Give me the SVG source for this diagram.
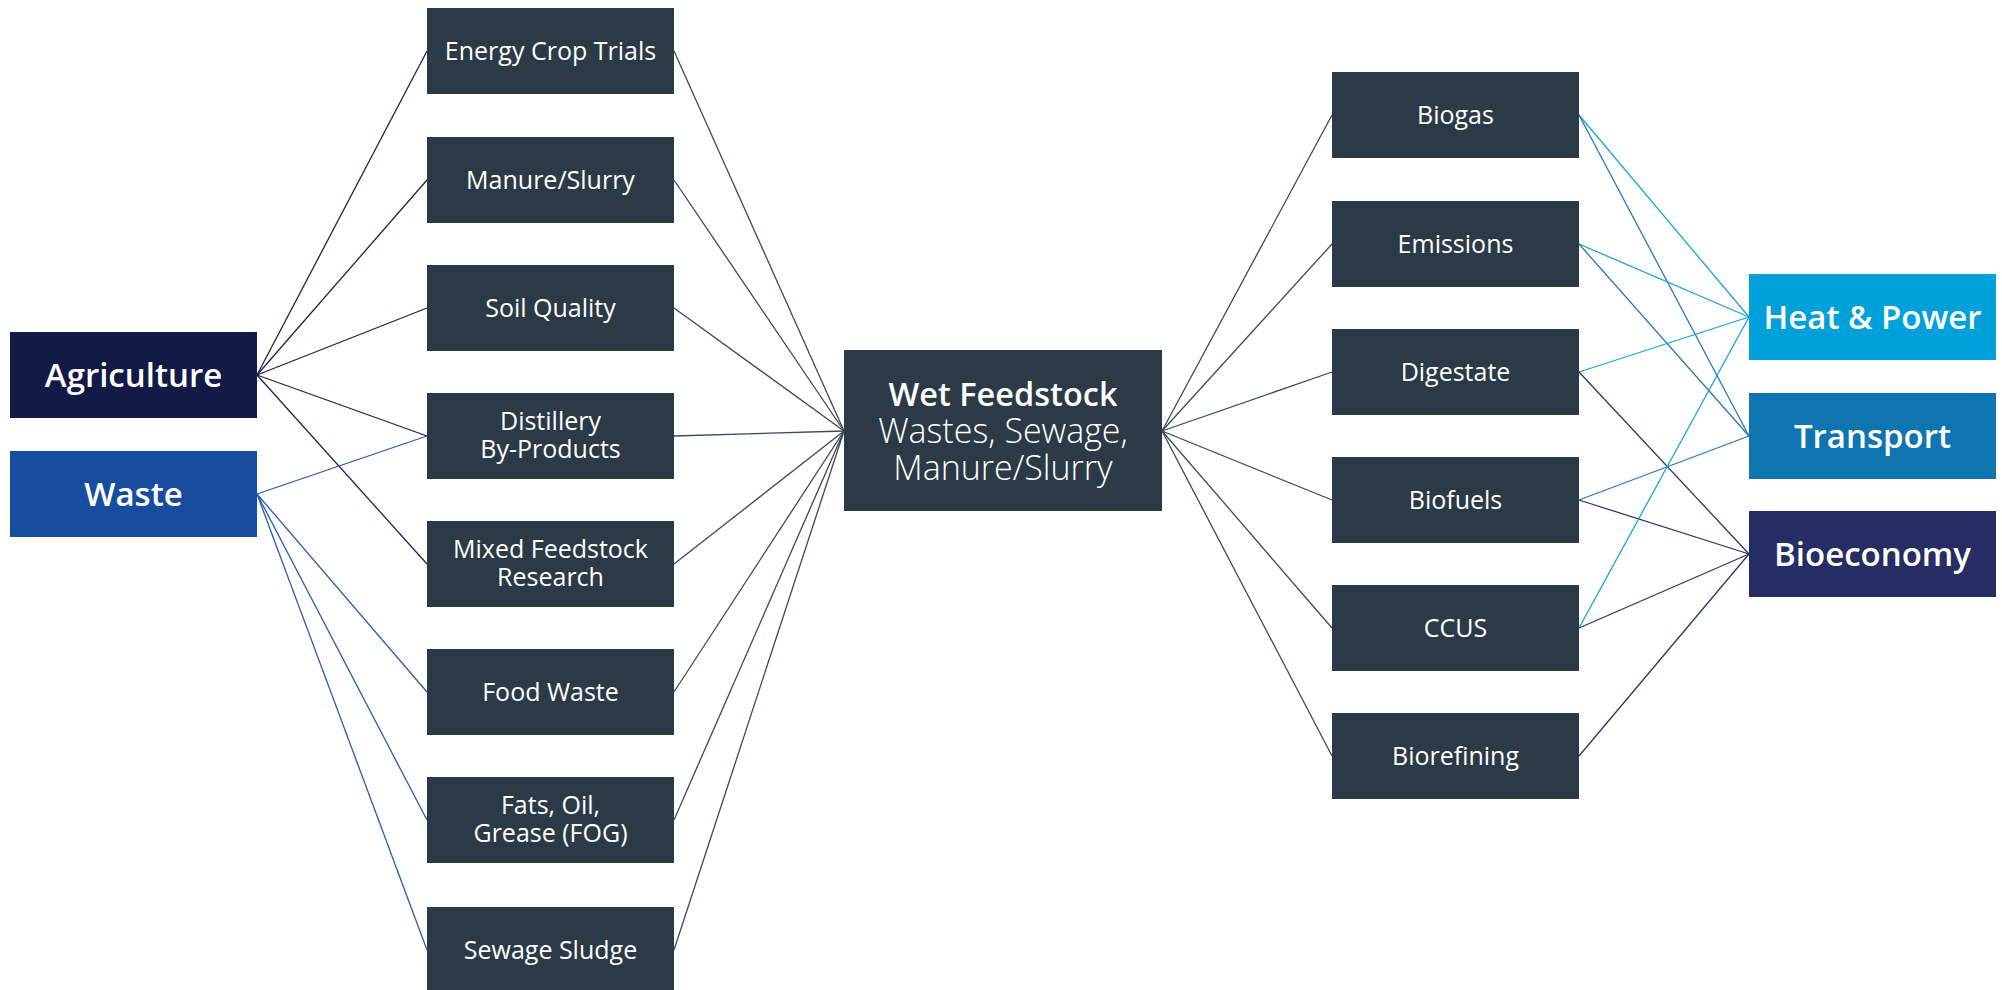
<svg xmlns="http://www.w3.org/2000/svg" width="2002" height="990" viewBox="0 0 2002 990">
<style>
.bg{fill:#ffffff}
.node rect{fill:#2b3a46}
.t{font-family:"Open Sans","Liberation Sans",sans-serif;font-size:25px;fill:#ffffff;text-anchor:middle}
.big{font-family:"Open Sans","Liberation Sans",sans-serif;font-size:33px;font-weight:600;fill:#ffffff;text-anchor:middle}
.hb{font-family:"Open Sans","Liberation Sans",sans-serif;font-size:32.5px;font-weight:600;fill:#ffffff;text-anchor:middle}
.hl{font-family:"Open Sans","Liberation Sans",sans-serif;font-size:34px;font-weight:300;fill:#ffffff;text-anchor:middle}
.c line{stroke-width:1.3;fill:none}
.agri{stroke:#1c2350}
.waste{stroke:#2a5bb0}
.gray{stroke:#3b4a56}
.hp{stroke:#1aa3dc}
.tr{stroke:#2a78b5}
.bio{stroke:#2e356a}
</style>
<rect class="bg" x="0" y="0" width="2002" height="990"/>
<g id="connectors" class="c">
  <line class="agri" x1="257" y1="375" x2="427" y2="51"/>
  <line class="agri" x1="257" y1="375" x2="427" y2="180"/>
  <line class="agri" x1="257" y1="375" x2="427" y2="308"/>
  <line class="agri" x1="257" y1="375" x2="427" y2="436"/>
  <line class="agri" x1="257" y1="375" x2="427" y2="564"/>
  <line class="waste" x1="257" y1="494" x2="427" y2="436"/>
  <line class="waste" x1="257" y1="494" x2="427" y2="692"/>
  <line class="waste" x1="257" y1="494" x2="427" y2="820"/>
  <line class="waste" x1="257" y1="494" x2="427" y2="950"/>
  <line class="gray" x1="674" y1="51" x2="844" y2="431"/>
  <line class="gray" x1="674" y1="180" x2="844" y2="431"/>
  <line class="gray" x1="674" y1="308" x2="844" y2="431"/>
  <line class="gray" x1="674" y1="436" x2="844" y2="431"/>
  <line class="gray" x1="674" y1="564" x2="844" y2="431"/>
  <line class="gray" x1="674" y1="692" x2="844" y2="431"/>
  <line class="gray" x1="674" y1="820" x2="844" y2="431"/>
  <line class="gray" x1="674" y1="950" x2="844" y2="431"/>
  <line class="gray" x1="1162" y1="431" x2="1332" y2="115"/>
  <line class="gray" x1="1162" y1="431" x2="1332" y2="244"/>
  <line class="gray" x1="1162" y1="431" x2="1332" y2="372"/>
  <line class="gray" x1="1162" y1="431" x2="1332" y2="500"/>
  <line class="gray" x1="1162" y1="431" x2="1332" y2="628"/>
  <line class="gray" x1="1162" y1="431" x2="1332" y2="756"/>
  <line class="hp" x1="1579" y1="115" x2="1749" y2="317"/>
  <line class="tr" x1="1579" y1="115" x2="1749" y2="436"/>
  <line class="hp" x1="1579" y1="244" x2="1749" y2="317"/>
  <line class="tr" x1="1579" y1="244" x2="1749" y2="436"/>
  <line class="hp" x1="1579" y1="372" x2="1749" y2="317"/>
  <line class="bio" x1="1579" y1="372" x2="1749" y2="554"/>
  <line class="tr" x1="1579" y1="500" x2="1749" y2="436"/>
  <line class="bio" x1="1579" y1="500" x2="1749" y2="554"/>
  <line class="hp" x1="1579" y1="628" x2="1749" y2="317"/>
  <line class="bio" x1="1579" y1="628" x2="1749" y2="554"/>
  <line class="bio" x1="1579" y1="756" x2="1749" y2="554"/>
</g>
<g id="agriculture"><rect x="10" y="332" width="247" height="86" fill="#131a45"/><text class="big" x="133.5" y="387">Agriculture</text></g>
<g id="waste"><rect x="10" y="451" width="247" height="86" fill="#174c9e"/><text class="big" x="133.5" y="506">Waste</text></g>
<g id="energy-crop-trials" class="node"><rect x="427" y="8" width="247" height="86"/><text class="t" x="550.5" y="59.5">Energy Crop Trials</text></g>
<g id="manure-slurry" class="node"><rect x="427" y="137" width="247" height="86"/><text class="t" x="550.5" y="188.5">Manure/Slurry</text></g>
<g id="soil-quality" class="node"><rect x="427" y="265" width="247" height="86"/><text class="t" x="550.5" y="316.5">Soil Quality</text></g>
<g id="distillery" class="node"><rect x="427" y="393" width="247" height="86"/><text class="t" x="550.5" y="429.5">Distillery</text><text class="t" x="550.5" y="458">By-Products</text></g>
<g id="mixed-feedstock" class="node"><rect x="427" y="521" width="247" height="86"/><text class="t" x="550.5" y="557.5">Mixed Feedstock</text><text class="t" x="550.5" y="586">Research</text></g>
<g id="food-waste" class="node"><rect x="427" y="649" width="247" height="86"/><text class="t" x="550.5" y="700.5">Food Waste</text></g>
<g id="fog" class="node"><rect x="427" y="777" width="247" height="86"/><text class="t" x="550.5" y="813.5">Fats, Oil,</text><text class="t" x="550.5" y="842">Grease (FOG)</text></g>
<g id="sewage-sludge" class="node"><rect x="427" y="907" width="247" height="86"/><text class="t" x="550.5" y="958.5">Sewage Sludge</text></g>
<g id="wet-feedstock" class="node"><rect x="844" y="350" width="318" height="161"/><text class="hb" x="1003" y="406">Wet Feedstock</text><text class="hl" x="1003" y="443">Wastes, Sewage,</text><text class="hl" x="1003" y="480">Manure/Slurry</text></g>
<g id="biogas" class="node"><rect x="1332" y="72" width="247" height="86"/><text class="t" x="1455.5" y="123.5">Biogas</text></g>
<g id="emissions" class="node"><rect x="1332" y="201" width="247" height="86"/><text class="t" x="1455.5" y="252.5">Emissions</text></g>
<g id="digestate" class="node"><rect x="1332" y="329" width="247" height="86"/><text class="t" x="1455.5" y="380.5">Digestate</text></g>
<g id="biofuels" class="node"><rect x="1332" y="457" width="247" height="86"/><text class="t" x="1455.5" y="508.5">Biofuels</text></g>
<g id="ccus" class="node"><rect x="1332" y="585" width="247" height="86"/><text class="t" x="1455.5" y="636.5">CCUS</text></g>
<g id="biorefining" class="node"><rect x="1332" y="713" width="247" height="86"/><text class="t" x="1455.5" y="764.5">Biorefining</text></g>
<g id="heat-power"><rect x="1749" y="274" width="247" height="86" fill="#00a0da"/><text class="big" x="1872.5" y="329">Heat &amp; Power</text></g>
<g id="transport"><rect x="1749" y="393" width="247" height="86" fill="#0f75b0"/><text class="big" x="1872.5" y="448">Transport</text></g>
<g id="bioeconomy"><rect x="1749" y="511" width="247" height="86" fill="#252d63"/><text class="big" x="1872.5" y="566">Bioeconomy</text></g>
</svg>
